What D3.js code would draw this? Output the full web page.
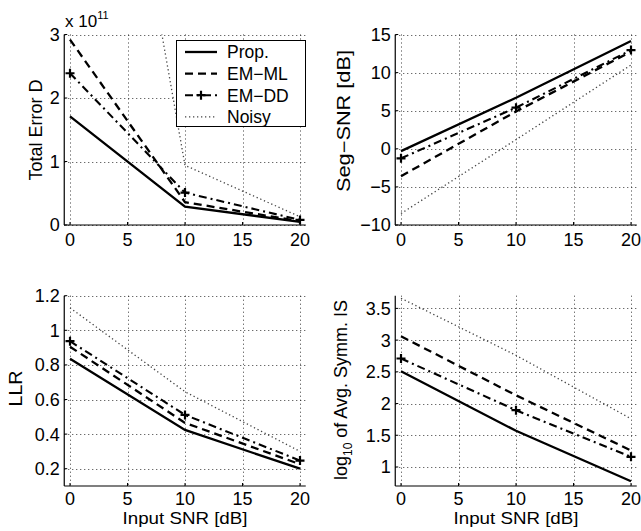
<!DOCTYPE html>
<html>
<head>
<meta charset="utf-8">
<script src="https://cdn.jsdelivr.net/npm/d3@7"></script>
<style>
  html, body { margin: 0; padding: 0; background: #fff; }
  svg { display: block; }
  text { font-family: "Liberation Sans", Arial, Helvetica, sans-serif; fill: #000; }
</style>
</head>
<body>
<svg id="chart" width="641" height="531"></svg>
<script>
// ---------------- DATA ----------------
const inputSNR = [0, 10, 20];
const seriesNames = ["Prop.", "EM\u2212ML", "EM\u2212DD", "Noisy"];
const xTicks = [0, 5, 10, 15, 20];

// Total Error D (x 10^11)
const totalErrProp  = [1.71, 0.29, 0.05];
const totalErrEMML  = [2.92, 0.36, 0.06];
const totalErrEMDD  = [2.39, 0.51, 0.08];
const totalErrNoisy = [11.2, 0.94, 0.13];
const totalErrTicks = [0, 1, 2, 3];

// Seg-SNR [dB]
const segSNRProp  = [-0.3, 6.7, 14.15];
const segSNREMML  = [-3.6, 4.9, 12.75];
const segSNREMDD  = [-1.25, 5.4, 12.95];
const segSNRNoisy = [-8.5, 1.2, 11.0];
const segSNRTicks = [-10, -5, 0, 5, 10, 15];

// LLR
const llrProp  = [0.835, 0.424, 0.2];
const llrEMML  = [0.905, 0.465, 0.226];
const llrEMDD  = [0.937, 0.511, 0.247];
const llrNoisy = [1.13, 0.645, 0.30];
const llrTicks = [0.2, 0.4, 0.6, 0.8, 1, 1.2];

// log10 of Avg. Symm. IS
const isProp  = [2.51, 1.57, 0.775];
const isEMML  = [3.06, 2.13, 1.26];
const isEMDD  = [2.71, 1.895, 1.16];
const isNoisy = [3.66, 2.76, 1.76];
const isTicks = [1, 1.5, 2, 2.5, 3, 3.5];

// ---------------- STYLES ----------------
const styles = [
  { dash: null,        width: 2.3, color: "#000", marker: false },
  { dash: "8,5",       width: 2.3, color: "#000", marker: false },
  { dash: "8,4,2,4",   width: 2.1, color: "#000", marker: true  },
  { dash: "1.3,2.7",   width: 1.3, color: "#444", marker: false }
];

const svg = d3.select("#chart");
const TICK_FS = 18, LABEL_FS = 18;
const fmt = v => (v < 0 ? "\u2212" + Math.abs(v) : String(v));

function panel(cfg) {
  const { id, x0, x1, y0, y1, yDomain, yTicks, series, ylabel, ylabelX, ylabelY, ylabelLen,
          xlabel, xTickBase } = cfg;
  const x = d3.scaleLinear().domain([-0.5, 20.5]).range([x0, x1]);
  const y = d3.scaleLinear().domain(yDomain).range([y1, y0]);
  const g = svg.append("g");

  g.append("clipPath").attr("id", "clip" + id)
    .append("rect").attr("x", x0).attr("y", y0).attr("width", x1 - x0).attr("height", y1 - y0);

  // grid
  const grid = g.append("g").attr("stroke", "#222").attr("stroke-width", 0.9).attr("stroke-dasharray", "1,3");
  xTicks.forEach(t => grid.append("line")
    .attr("x1", Math.round(x(t)) + 0.5).attr("x2", Math.round(x(t)) + 0.5)
    .attr("y1", y0).attr("y2", y1));
  yTicks.forEach(t => grid.append("line")
    .attr("x1", x0).attr("x2", x1)
    .attr("y1", Math.round(y(t)) + 0.5).attr("y2", Math.round(y(t)) + 0.5));

  // axes (left & bottom, ticks inward)
  const ax = g.append("g");
  ax.append("line").attr("x1", x0).attr("x2", x0).attr("y1", y0).attr("y2", y1).attr("stroke", "#000").attr("stroke-width", 1.2);
  ax.append("line").attr("x1", x0).attr("x2", x1).attr("y1", y1).attr("y2", y1).attr("stroke", "#000").attr("stroke-width", 1.2);
  xTicks.forEach(t => {
    ax.append("line").attr("x1", x(t)).attr("x2", x(t)).attr("y1", y1).attr("y2", y1 - 3).attr("stroke", "#000");
    ax.append("text").attr("x", x(t)).attr("y", y1 + xTickBase)
      .attr("text-anchor", "middle").attr("font-size", TICK_FS).text(fmt(t));
  });
  yTicks.forEach(t => {
    ax.append("line").attr("x1", x0).attr("x2", x0 + 3).attr("y1", y(t)).attr("y2", y(t)).attr("stroke", "#000");
    ax.append("text").attr("x", x0 - 4.5).attr("y", y(t)).attr("dy", "0.36em")
      .attr("text-anchor", "end").attr("font-size", TICK_FS).text(fmt(t));
  });

  // lines
  const line = d3.line().x((d, i) => x(inputSNR[i])).y(d => y(d));
  const plot = g.append("g").attr("clip-path", `url(#clip${id})`);
  series.forEach((vals, si) => {
    const s = styles[si];
    plot.append("path").datum(vals).attr("d", line)
      .attr("fill", "none").attr("stroke", s.color).attr("stroke-width", s.width)
      .attr("stroke-dasharray", s.dash).attr("stroke-linejoin", "miter");
    if (s.marker) {
      vals.forEach((v, i) => {
        const cx = x(inputSNR[i]), cy = y(v), r = 4.5;
        plot.append("path").attr("d", `M${cx - r},${cy}H${cx + r}M${cx},${cy - r}V${cy + r}`)
          .attr("stroke", "#000").attr("stroke-width", 2.2).attr("fill", "none");
      });
    }
  });

  // y label
  const yl = g.append("text").attr("transform", `translate(${ylabelX},${ylabelY}) rotate(-90)`)
    .attr("text-anchor", "middle").attr("font-size", LABEL_FS).html(ylabel);
  if (ylabelLen) yl.attr("textLength", ylabelLen).attr("lengthAdjust", "spacingAndGlyphs");
  if (xlabel) {
    g.append("text").attr("x", (x0 + x1) / 2).attr("y", 524)
      .attr("text-anchor", "middle").attr("font-size", 17)
      .attr("textLength", 125).attr("lengthAdjust", "spacingAndGlyphs").text(xlabel);
  }
  return { x, y, g };
}

panel({ id: 1, x0: 64.25, x1: 305.75, y0: 34.5, y1: 225, yDomain: [0, 3], yTicks: totalErrTicks,
  series: [totalErrProp, totalErrEMML, totalErrEMDD, totalErrNoisy],
  ylabel: "Total Error D", ylabelX: 41.5, ylabelY: 130, xTickBase: 21 });
panel({ id: 2, x0: 395.25, x1: 636.75, y0: 34.5, y1: 225, yDomain: [-10, 15], yTicks: segSNRTicks,
  series: [segSNRProp, segSNREMML, segSNREMDD, segSNRNoisy],
  ylabel: "Seg\u2212SNR [dB]", ylabelX: 350, ylabelY: 121, ylabelLen: 142, xTickBase: 21 });
panel({ id: 3, x0: 64.25, x1: 305.75, y0: 295.7, y1: 486, yDomain: [0.1, 1.2], yTicks: llrTicks,
  series: [llrProp, llrEMML, llrEMDD, llrNoisy],
  ylabel: "LLR", ylabelX: 21.5, ylabelY: 388.5, ylabelLen: 36, xlabel: "Input SNR [dB]", xTickBase: 18.5 });
panel({ id: 4, x0: 395.25, x1: 636.75, y0: 295.7, y1: 486, yDomain: [0.7, 3.7], yTicks: isTicks,
  series: [isProp, isEMML, isEMDD, isNoisy],
  ylabel: 'log<tspan font-size="12" dy="5">10</tspan><tspan dy="-5"> of Avg. Symm. IS</tspan>', ylabelX: 347, ylabelY: 390,
  xlabel: "Input SNR [dB]", xTickBase: 18.5 });

// exponent label
const ex = svg.append("text").attr("x", 65).attr("y", 27).attr("font-size", 17);
ex.append("tspan").text("x 10");
ex.append("tspan").attr("font-size", 11).attr("dy", -8).text("11");

// legend
const lg = svg.append("g");
lg.append("rect").attr("x", 176.5).attr("y", 40.5).attr("width", 129).attr("height", 86)
  .attr("fill", "#fff").attr("stroke", "#000").attr("stroke-width", 1);
seriesNames.forEach((name, i) => {
  const cy = 52 + i * 21.6, s = styles[i];
  lg.append("line").attr("x1", 185).attr("x2", 217).attr("y1", cy).attr("y2", cy)
    .attr("stroke", s.color).attr("stroke-width", s.width).attr("stroke-dasharray", s.dash);
  if (s.marker) {
    lg.append("path").attr("d", `M${201 - 4.5},${cy}H${201 + 4.5}M201,${cy - 4.5}V${cy + 4.5}`)
      .attr("stroke", "#000").attr("stroke-width", 2.2);
  }
  lg.append("text").attr("x", 227).attr("y", cy).attr("dy", "0.36em").attr("font-size", 17.5).text(name);
});
</script>
</body>
</html>
